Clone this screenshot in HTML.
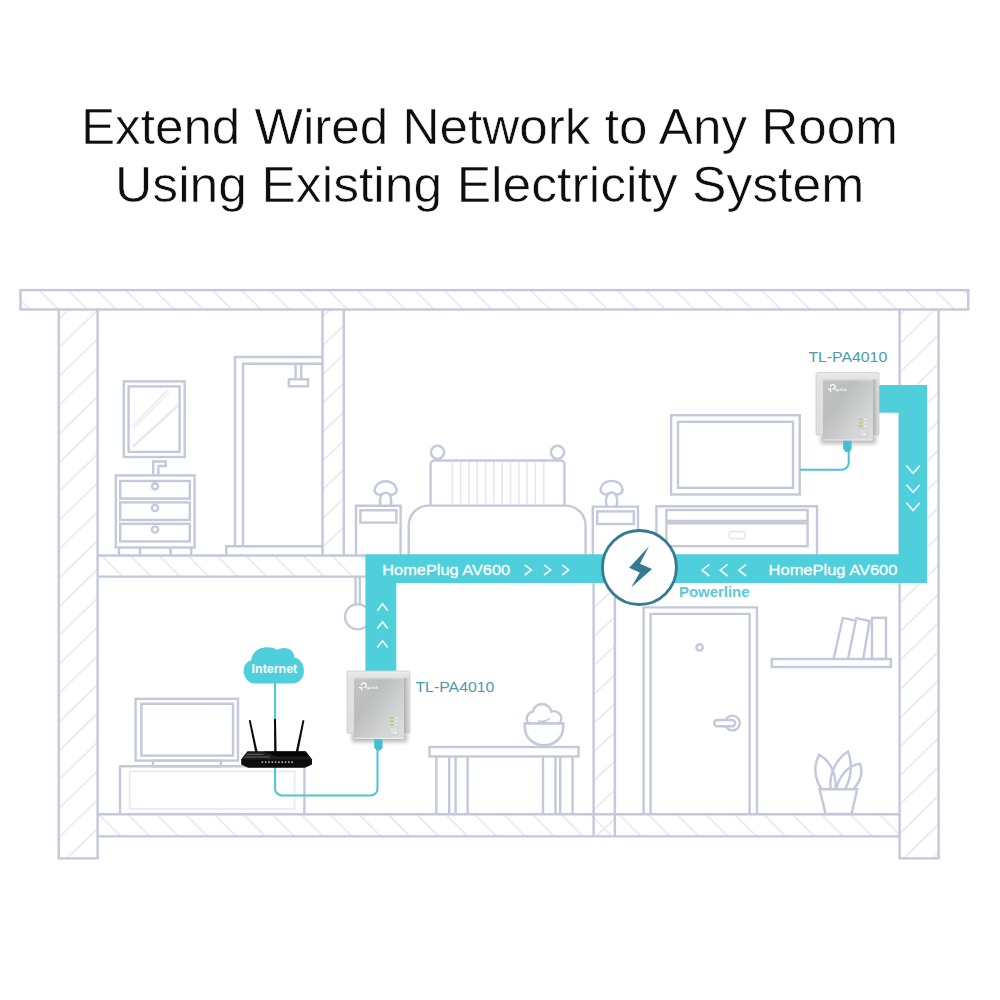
<!DOCTYPE html>
<html><head><meta charset="utf-8"><title>Powerline</title>
<style>
html,body{margin:0;padding:0;background:#fff;}
body{width:1000px;height:1000px;overflow:hidden;font-family:"Liberation Sans",sans-serif;}
svg{display:block;position:absolute;left:0;top:0;}
</style></head><body>
<svg width="1000" height="1000" viewBox="0 0 1000 1000" font-family="Liberation Sans, sans-serif">
<defs>
<clipPath id="c_roof"><rect x="20.5" y="290" width="947.7" height="19.5"/></clipPath>
<clipPath id="c_lw"><rect x="58.7" y="309.5" width="38.89999999999999" height="548.9"/></clipPath>
<clipPath id="c_rw"><rect x="899.6" y="309.5" width="39.19999999999993" height="548.9"/></clipPath>
<clipPath id="c_iw1"><rect x="322.5" y="309.5" width="21.30000000000001" height="246.0"/></clipPath>
<clipPath id="c_iw2"><rect x="593.6" y="583" width="21.399999999999977" height="253"/></clipPath>
<clipPath id="c_f1"><rect x="97.6" y="555.5" width="267.4" height="21.299999999999955"/></clipPath>
<clipPath id="c_f0"><rect x="97.6" y="814.5" width="802.0" height="21.5"/></clipPath>
<linearGradient id="gFace" x1="0" y1="0" x2="1" y2="0.9">
<stop offset="0" stop-color="#c3c3c3"/><stop offset="0.35" stop-color="#bcbdbd"/><stop offset="0.7" stop-color="#d0d1d1"/><stop offset="1" stop-color="#dddddd"/>
</linearGradient>
<linearGradient id="gFaceV" x1="0" y1="0" x2="0" y2="1">
<stop offset="0" stop-color="#fff" stop-opacity="0.35"/><stop offset="0.04" stop-color="#fff" stop-opacity="0"/><stop offset="0.965" stop-color="#fff" stop-opacity="0"/><stop offset="1" stop-color="#fff" stop-opacity="0.6"/>
</linearGradient>
<linearGradient id="gBack" x1="0" y1="0" x2="0" y2="1">
<stop offset="0" stop-color="#ececec"/><stop offset="0.08" stop-color="#e3e3e3"/><stop offset="1" stop-color="#dedede"/>
</linearGradient>
<linearGradient id="gSide" x1="0" y1="0" x2="1" y2="0">
<stop offset="0" stop-color="#000" stop-opacity="0.22"/><stop offset="1" stop-color="#000" stop-opacity="0"/>
</linearGradient>
<filter id="fBlur" x="-30%" y="-100%" width="160%" height="300%"><feGaussianBlur stdDeviation="2.2"/></filter>
<g id="dev">
<rect x="5" y="62" width="55" height="9" fill="#7a7a7a" opacity="0.55" filter="url(#fBlur)"/>
<rect x="0" y="0" width="63" height="62.5" rx="1.6" fill="url(#gBack)" stroke="#cbcbcb" stroke-width="0.8"/>
<rect x="56.8" y="6.8" width="6" height="55.4" fill="url(#gSide)"/>
<rect x="7" y="6.8" width="49.8" height="61.2" rx="1.2" fill="url(#gFace)"/>
<rect x="7" y="6.8" width="49.8" height="61.2" rx="1.2" fill="url(#gFaceV)"/>
<!-- logo -->
<g fill="none" stroke="#fff" stroke-width="1.2" stroke-linecap="round"><path d="M12.4 16.6H14.6V19M14.5 14a2.3 2.3 0 1 1 2.5 2.5"/></g>
<text x="19.4" y="18.4" font-size="3.9" fill="#fff" font-weight="bold" opacity="0.85">tp-link</text>
<!-- leds -->
<g fill="#b4cc5e"><rect x="43" y="46.2" width="3.6" height="1.5" rx="0.7"/><rect x="43" y="49.4" width="3.6" height="1.5" rx="0.7"/><rect x="43" y="53" width="3.6" height="1.5" rx="0.7"/></g>
<g fill="#eef0f0"><rect x="48.2" y="46.2" width="2" height="1.3"/><rect x="48.2" y="49.4" width="2" height="1.3"/><rect x="48.2" y="53" width="2" height="1.3"/></g>
<rect x="42.8" y="56.4" width="8.6" height="7.6" rx="1.2" fill="#dcdde0" stroke="#c6c8d4" stroke-width="0.6"/>
<rect x="46.6" y="61.4" width="3.2" height="1" fill="#f6f6f6"/>
<!-- connector -->
<path d="M27.2 68.2H35.6V76.5L33.2 79.4H29.6L27.2 76.5Z" fill="#45bfcf"/>
</g>

</defs>
<rect width="1000" height="1000" fill="#fff"/>
<g fill="#0e0e0e" font-size="50.4" text-anchor="middle" stroke="#fff" stroke-width="0.55">
<text id="t1" x="489.4" y="144" textLength="817" lengthAdjust="spacingAndGlyphs">Extend Wired Network to Any Room</text>
<text id="t2" x="489.6" y="202" textLength="749.2" lengthAdjust="spacingAndGlyphs">Using Existing Electricity System</text>
</g>

<g clip-path="url(#c_roof)" stroke="#ededef" stroke-width="2"><line x1="-47.70" y1="290" x2="-28.20" y2="309.5"/><line x1="-18.80" y1="290" x2="0.70" y2="309.5"/><line x1="10.10" y1="290" x2="29.60" y2="309.5"/><line x1="39.00" y1="290" x2="58.50" y2="309.5"/><line x1="67.90" y1="290" x2="87.40" y2="309.5"/><line x1="96.80" y1="290" x2="116.30" y2="309.5"/><line x1="125.70" y1="290" x2="145.20" y2="309.5"/><line x1="154.60" y1="290" x2="174.10" y2="309.5"/><line x1="183.50" y1="290" x2="203.00" y2="309.5"/><line x1="212.40" y1="290" x2="231.90" y2="309.5"/><line x1="241.30" y1="290" x2="260.80" y2="309.5"/><line x1="270.20" y1="290" x2="289.70" y2="309.5"/><line x1="299.10" y1="290" x2="318.60" y2="309.5"/><line x1="328.00" y1="290" x2="347.50" y2="309.5"/><line x1="356.90" y1="290" x2="376.40" y2="309.5"/><line x1="385.80" y1="290" x2="405.30" y2="309.5"/><line x1="414.70" y1="290" x2="434.20" y2="309.5"/><line x1="443.60" y1="290" x2="463.10" y2="309.5"/><line x1="472.50" y1="290" x2="492.00" y2="309.5"/><line x1="501.40" y1="290" x2="520.90" y2="309.5"/><line x1="530.30" y1="290" x2="549.80" y2="309.5"/><line x1="559.20" y1="290" x2="578.70" y2="309.5"/><line x1="588.10" y1="290" x2="607.60" y2="309.5"/><line x1="617.00" y1="290" x2="636.50" y2="309.5"/><line x1="645.90" y1="290" x2="665.40" y2="309.5"/><line x1="674.80" y1="290" x2="694.30" y2="309.5"/><line x1="703.70" y1="290" x2="723.20" y2="309.5"/><line x1="732.60" y1="290" x2="752.10" y2="309.5"/><line x1="761.50" y1="290" x2="781.00" y2="309.5"/><line x1="790.40" y1="290" x2="809.90" y2="309.5"/><line x1="819.30" y1="290" x2="838.80" y2="309.5"/><line x1="848.20" y1="290" x2="867.70" y2="309.5"/><line x1="877.10" y1="290" x2="896.60" y2="309.5"/><line x1="906.00" y1="290" x2="925.50" y2="309.5"/><line x1="934.90" y1="290" x2="954.40" y2="309.5"/><line x1="963.80" y1="290" x2="983.30" y2="309.5"/><line x1="992.70" y1="290" x2="1012.20" y2="309.5"/></g>
<g clip-path="url(#c_lw)" stroke="#ededef" stroke-width="2"><line x1="58.7" y1="261.60" x2="97.6" y2="223.67"/><line x1="58.7" y1="290.40" x2="97.6" y2="252.47"/><line x1="58.7" y1="319.20" x2="97.6" y2="281.27"/><line x1="58.7" y1="348.00" x2="97.6" y2="310.07"/><line x1="58.7" y1="376.80" x2="97.6" y2="338.87"/><line x1="58.7" y1="405.60" x2="97.6" y2="367.67"/><line x1="58.7" y1="434.40" x2="97.6" y2="396.47"/><line x1="58.7" y1="463.20" x2="97.6" y2="425.27"/><line x1="58.7" y1="492.00" x2="97.6" y2="454.07"/><line x1="58.7" y1="520.80" x2="97.6" y2="482.87"/><line x1="58.7" y1="549.60" x2="97.6" y2="511.67"/><line x1="58.7" y1="578.40" x2="97.6" y2="540.47"/><line x1="58.7" y1="607.20" x2="97.6" y2="569.27"/><line x1="58.7" y1="636.00" x2="97.6" y2="598.07"/><line x1="58.7" y1="664.80" x2="97.6" y2="626.87"/><line x1="58.7" y1="693.60" x2="97.6" y2="655.67"/><line x1="58.7" y1="722.40" x2="97.6" y2="684.47"/><line x1="58.7" y1="751.20" x2="97.6" y2="713.27"/><line x1="58.7" y1="780.00" x2="97.6" y2="742.07"/><line x1="58.7" y1="808.80" x2="97.6" y2="770.87"/><line x1="58.7" y1="837.60" x2="97.6" y2="799.67"/><line x1="58.7" y1="866.40" x2="97.6" y2="828.47"/><line x1="58.7" y1="895.20" x2="97.6" y2="857.27"/><line x1="58.7" y1="924.00" x2="97.6" y2="886.07"/></g>
<g clip-path="url(#c_rw)" stroke="#ededef" stroke-width="2"><line x1="899.6" y1="257.70" x2="938.6" y2="219.48"/><line x1="899.6" y1="286.50" x2="938.6" y2="248.28"/><line x1="899.6" y1="315.30" x2="938.6" y2="277.08"/><line x1="899.6" y1="344.10" x2="938.6" y2="305.88"/><line x1="899.6" y1="372.90" x2="938.6" y2="334.68"/><line x1="899.6" y1="401.70" x2="938.6" y2="363.48"/><line x1="899.6" y1="430.50" x2="938.6" y2="392.28"/><line x1="899.6" y1="459.30" x2="938.6" y2="421.08"/><line x1="899.6" y1="488.10" x2="938.6" y2="449.88"/><line x1="899.6" y1="516.90" x2="938.6" y2="478.68"/><line x1="899.6" y1="545.70" x2="938.6" y2="507.48"/><line x1="899.6" y1="574.50" x2="938.6" y2="536.28"/><line x1="899.6" y1="603.30" x2="938.6" y2="565.08"/><line x1="899.6" y1="632.10" x2="938.6" y2="593.88"/><line x1="899.6" y1="660.90" x2="938.6" y2="622.68"/><line x1="899.6" y1="689.70" x2="938.6" y2="651.48"/><line x1="899.6" y1="718.50" x2="938.6" y2="680.28"/><line x1="899.6" y1="747.30" x2="938.6" y2="709.08"/><line x1="899.6" y1="776.10" x2="938.6" y2="737.88"/><line x1="899.6" y1="804.90" x2="938.6" y2="766.68"/><line x1="899.6" y1="833.70" x2="938.6" y2="795.48"/><line x1="899.6" y1="862.50" x2="938.6" y2="824.28"/><line x1="899.6" y1="891.30" x2="938.6" y2="853.08"/><line x1="899.6" y1="920.10" x2="938.6" y2="881.88"/></g>
<g clip-path="url(#c_iw1)" stroke="#ededef" stroke-width="2"><line x1="322.5" y1="259.40" x2="343.8" y2="239.16"/><line x1="322.5" y1="288.20" x2="343.8" y2="267.96"/><line x1="322.5" y1="317.00" x2="343.8" y2="296.76"/><line x1="322.5" y1="345.80" x2="343.8" y2="325.56"/><line x1="322.5" y1="374.60" x2="343.8" y2="354.37"/><line x1="322.5" y1="403.40" x2="343.8" y2="383.17"/><line x1="322.5" y1="432.20" x2="343.8" y2="411.97"/><line x1="322.5" y1="461.00" x2="343.8" y2="440.77"/><line x1="322.5" y1="489.80" x2="343.8" y2="469.57"/><line x1="322.5" y1="518.60" x2="343.8" y2="498.37"/><line x1="322.5" y1="547.40" x2="343.8" y2="527.16"/><line x1="322.5" y1="576.20" x2="343.8" y2="555.96"/></g>
<g clip-path="url(#c_iw2)" stroke="#ededef" stroke-width="2"><line x1="593.6" y1="550.50" x2="614.9" y2="530.69"/><line x1="593.6" y1="579.30" x2="614.9" y2="559.49"/><line x1="593.6" y1="608.10" x2="614.9" y2="588.29"/><line x1="593.6" y1="636.90" x2="614.9" y2="617.09"/><line x1="593.6" y1="665.70" x2="614.9" y2="645.89"/><line x1="593.6" y1="694.50" x2="614.9" y2="674.69"/><line x1="593.6" y1="723.30" x2="614.9" y2="703.49"/><line x1="593.6" y1="752.10" x2="614.9" y2="732.29"/><line x1="593.6" y1="780.90" x2="614.9" y2="761.09"/><line x1="593.6" y1="809.70" x2="614.9" y2="789.89"/><line x1="593.6" y1="838.50" x2="614.9" y2="818.69"/><line x1="593.6" y1="867.30" x2="614.9" y2="847.49"/></g>
<g clip-path="url(#c_f1)" stroke="#ededef" stroke-width="2"><line x1="43.90" y1="555.5" x2="65.00" y2="576.6"/><line x1="72.70" y1="555.5" x2="93.80" y2="576.6"/><line x1="101.50" y1="555.5" x2="122.60" y2="576.6"/><line x1="130.30" y1="555.5" x2="151.40" y2="576.6"/><line x1="159.10" y1="555.5" x2="180.20" y2="576.6"/><line x1="187.90" y1="555.5" x2="209.00" y2="576.6"/><line x1="216.70" y1="555.5" x2="237.80" y2="576.6"/><line x1="245.50" y1="555.5" x2="266.60" y2="576.6"/><line x1="274.30" y1="555.5" x2="295.40" y2="576.6"/><line x1="303.10" y1="555.5" x2="324.20" y2="576.6"/><line x1="331.90" y1="555.5" x2="353.00" y2="576.6"/><line x1="360.70" y1="555.5" x2="381.80" y2="576.6"/><line x1="389.50" y1="555.5" x2="410.60" y2="576.6"/></g>
<g clip-path="url(#c_f0)" stroke="#ededef" stroke-width="2"><line x1="41.00" y1="814.3" x2="63.10" y2="836.4"/><line x1="69.90" y1="814.3" x2="92.00" y2="836.4"/><line x1="98.80" y1="814.3" x2="120.90" y2="836.4"/><line x1="127.70" y1="814.3" x2="149.80" y2="836.4"/><line x1="156.60" y1="814.3" x2="178.70" y2="836.4"/><line x1="185.50" y1="814.3" x2="207.60" y2="836.4"/><line x1="214.40" y1="814.3" x2="236.50" y2="836.4"/><line x1="243.30" y1="814.3" x2="265.40" y2="836.4"/><line x1="272.20" y1="814.3" x2="294.30" y2="836.4"/><line x1="301.10" y1="814.3" x2="323.20" y2="836.4"/><line x1="330.00" y1="814.3" x2="352.10" y2="836.4"/><line x1="358.90" y1="814.3" x2="381.00" y2="836.4"/><line x1="387.80" y1="814.3" x2="409.90" y2="836.4"/><line x1="416.70" y1="814.3" x2="438.80" y2="836.4"/><line x1="445.60" y1="814.3" x2="467.70" y2="836.4"/><line x1="474.50" y1="814.3" x2="496.60" y2="836.4"/><line x1="503.40" y1="814.3" x2="525.50" y2="836.4"/><line x1="532.30" y1="814.3" x2="554.40" y2="836.4"/><line x1="561.20" y1="814.3" x2="583.30" y2="836.4"/><line x1="590.10" y1="814.3" x2="612.20" y2="836.4"/><line x1="619.00" y1="814.3" x2="641.10" y2="836.4"/><line x1="647.90" y1="814.3" x2="670.00" y2="836.4"/><line x1="676.80" y1="814.3" x2="698.90" y2="836.4"/><line x1="705.70" y1="814.3" x2="727.80" y2="836.4"/><line x1="734.60" y1="814.3" x2="756.70" y2="836.4"/><line x1="763.50" y1="814.3" x2="785.60" y2="836.4"/><line x1="792.40" y1="814.3" x2="814.50" y2="836.4"/><line x1="821.30" y1="814.3" x2="843.40" y2="836.4"/><line x1="850.20" y1="814.3" x2="872.30" y2="836.4"/><line x1="879.10" y1="814.3" x2="901.20" y2="836.4"/><line x1="908.00" y1="814.3" x2="930.10" y2="836.4"/></g>
<g fill="none" stroke="#c3c8db" stroke-width="2.4" stroke-linejoin="miter">
<rect x="20.5" y="290.1" width="947.7" height="19.4"/>
<path d="M58.7 309.5V858.4H97.6V309.5"/>
<path d="M899.6 309.5V858.4H938.6V309.5"/>
<path d="M322.5 309.5V555.5M343.8 309.5V555.5"/>
<path d="M593.6 583V836.4M614.9 583V836.4"/>
<path d="M97.6 555.5H366M97.6 576.6H366"/>
<path d="M97.6 814.3H899.6M97.6 836.4H899.6"/>
</g>
<g fill="none" stroke="#c3c8db" stroke-width="2.4" stroke-linejoin="miter" stroke-linecap="butt">
<!-- ===== bathroom ===== -->
<!-- mirror -->
<g stroke="#e9eaef"><path d="M132.8 426.4L167.6 389.8" stroke-width="1.4"/><path d="M134 428.6L169.6 391.2" stroke-width="1.2"/><path d="M132.8 446.8L179 404.8" stroke-width="2.6"/></g>
<rect x="123.8" y="381.4" width="60.9" height="75.6"/>
<rect x="128.6" y="386.4" width="51" height="65.5"/>
<!-- faucet -->
<path d="M153.2 475.4V461.5H165.8V466H158.4V475.4"/>
<!-- cabinet -->
<rect x="115.8" y="475.4" width="78.8" height="72.1"/>
<rect x="120.2" y="481" width="69.6" height="17.6"/>
<rect x="120.2" y="502.4" width="69.6" height="17.6"/>
<rect x="120.2" y="523.8" width="69.6" height="17.6"/>
<circle cx="155" cy="486.3" r="3.1" fill="#fff"/>
<circle cx="155" cy="508" r="3.1" fill="#fff"/>
<circle cx="155" cy="529.5" r="3.1" fill="#fff"/>
<path d="M119 547.5V555.5M140 547.5V555.5M170.6 547.5V555.5M191.2 547.5V555.5"/>
<!-- shower -->
<path d="M235 546.3V357H322.5"/>
<path d="M243 546.3V363.8H322.5"/>
<path d="M226.3 555.5V546.3H322.5"/>
<path d="M295.6 363.8V379.3M301.2 363.8V379.3"/>
<rect x="288.8" y="379.3" width="19.2" height="7"/>
<!-- ===== bedroom ===== -->
<!-- left nightstand -->
<path d="M356 555V505.7H400.6V555"/>
<rect x="360.4" y="510.3" width="36" height="12.3"/>
<path d="M380.7 505.7C379.2 500.7 379.6 492.9 385.6 492.9C391.6 492.9 392.0 500.7 390.5 505.7"/>
<path d="M382.2 494.5C376.6 496.1 374.0 492.1 374.8 488.7C375.8 483.9 380.6 481.3 385.6 481.3C390.6 481.3 395.4 483.9 396.4 488.7C397.2 492.1 394.6 496.1 389.0 494.5"/>
<!-- right nightstand -->
<path d="M592.8 555V506.6H638V555"/>
<rect x="597.2" y="511.4" width="36.6" height="12.6"/>
<path d="M606.7 506.6C605.2 501.6 605.6 492.5 611.6 492.5C617.6 492.5 618.0 501.6 616.5 506.6"/>
<path d="M608.2 494.1C602.6 495.7 600.0 491.7 600.8 488.3C601.8 483.5 606.6 480.9 611.6 480.9C616.6 480.9 621.4 483.5 622.4 488.3C623.2 491.7 620.6 495.7 615.0 494.1"/>
<!-- bed headboard -->
<g stroke="#e6e8f0" stroke-width="1.6"><path d="M452.4 461V505M460.7 461V505M469 461V505M477.3 461V505M485.6 461V505M493.9 461V505M502.2 461V505M510.5 461V505M518.8 461V505M527.1 461V505M535.4 461V505M543.7 461V505"/></g>
<path d="M430.6 505.6V464.5a4 4 0 0 1 4 -4H560.5a4 4 0 0 1 4 4V505.6"/>
<circle cx="437.5" cy="452.3" r="6.6" fill="#fff"/>
<circle cx="557.5" cy="452.3" r="6.6" fill="#fff"/>
<!-- bed cover -->
<path d="M408.7 555V525.6a20 20 0 0 1 20 -20H565.6a20 20 0 0 1 20 20V555"/>
<!-- hanging lamp -->
<path d="M355.6 577V604M359.8 577V604"/>
<circle cx="357.6" cy="616.8" r="12.6"/>
<!-- ===== living room upper right ===== -->
<rect x="671.1" y="415.2" width="128.6" height="79.3"/>
<rect x="678" y="421.8" width="115" height="66"/>
<path d="M656.4 555V506.2H817V555"/>
<rect x="666.4" y="510" width="141.2" height="10.9"/>
<rect x="666.4" y="523.3" width="141.2" height="22.9"/>
<rect x="729.3" y="531.6" width="15.4" height="7" rx="1.5" stroke="#e6e7ec" stroke-width="1.6"/>
<!-- ===== door room ===== -->
<path d="M643.6 814.5V607.4H757V814.5"/>
<path d="M650.6 814.5V613.9H749.6V814.5"/>
<circle cx="699.6" cy="647.4" r="3.2"/>
<circle cx="732.4" cy="723" r="7.4"/>
<rect x="714.2" y="720" width="21" height="6.2" rx="3.1" fill="#fff"/>
<!-- shelf -->
<rect x="771.8" y="659" width="119" height="8"/>
<path d="M833.6 659L842.8 617.8L855.8 620.6L848 659"/>
<path d="M856.2 619.2L856.4 618.2L869.6 621L863.2 659"/>
<rect x="872" y="617.8" width="14" height="41.2"/>
<!-- plant -->
<path d="M819.6 789.2H857.2L851.6 814H825.6Z"/>
<path d="M821.6 789C814 778 813.5 765 819.2 754.8C829 760 836.5 772 835.6 789"/>
<path d="M830.8 789C828.5 775 836 759 848 751.6C853 764 851 778 845.2 789"/>
<path d="M836.4 789C839 776 848 765.5 860 763.6C863.5 773 860 782 853.6 789"/>
<!-- ===== lower left room ===== -->
<rect x="135.6" y="698.8" width="102.4" height="61.8"/>
<rect x="141.4" y="703.8" width="91.6" height="51.8"/>
<rect x="153" y="760.6" width="67.8" height="5.7"/>
<rect x="129.6" y="771.4" width="165" height="37.4" stroke="#eaecf2" stroke-width="1.8"/>
<path d="M120 814.5V766.3H304.4V814.5"/>
<!-- table -->
<rect x="429.5" y="747" width="149" height="9.5"/>
<path d="M436.4 756.5V814.5M449.2 756.5V814.5M455.6 756.5V814.5M467.6 756.5V814.5"/>
<path d="M543 756.5V814.5M555.5 756.5V814.5M560.2 756.5V814.5M572.6 756.5V814.5"/>
<!-- bowl -->
<path d="M527.6 723C525.4 718 527.5 712.4 533 711.6C534 706.6 538 704 542 704C546.5 704 550.5 707 551.4 711.6C556 710 561.6 713.5 561.2 718.5C561.1 720 560.8 721.6 560.2 723" fill="#fff"/>
<path d="M538 720.6C541 722 548 721.4 549.4 718" stroke-width="1.6"/>
<path d="M524.8 723.4H563.2V727C563.2 738 554 745.4 544 745.4C534 745.4 524.8 738 524.8 727Z" fill="#fff" stroke-width="2.6"/>
</g>

<!-- cables -->
<g fill="none" stroke="#4cc4d2" stroke-width="2" stroke-linecap="butt">
<path d="M275.1 683V720"/>
<path d="M275.1 767V788.5a7 7 0 0 0 7 7H370.5a7 7 0 0 0 7 -7V750"/>
<path d="M848.7 451V462.8a7 7 0 0 1 -7 7H800"/>
</g>
<!-- powerline band -->
<path d="M365.4 671.3V554.3H898.8V412.8H878.8V384.9H927V582.9H396.3V671.3Z" fill="#4fcfdc"/>
<g fill="#fff" font-size="14.7" stroke="#fff" stroke-width="0.3">
<text id="hp1" x="382.3" y="575" textLength="127.8" lengthAdjust="spacingAndGlyphs">HomePlug AV600</text>
<text id="hp2" x="768.6" y="575" textLength="128.8" lengthAdjust="spacingAndGlyphs">HomePlug AV600</text>
</g>
<g fill="none" stroke="#f2fdff" stroke-width="1.6" stroke-linecap="butt" stroke-linejoin="miter">
<path d="M524.6 564.8L531.4 569.9L524.6 575M544 564.8L550.8 569.9L544 575M562 564.8L568.8 569.9L562 575"/>
<path d="M709.4 564.4L702 570.2L709.4 576M727.6 564.4L720.2 570.2L727.6 576M746.2 564.4L738.8 570.2L746.2 576"/>
<path d="M377.3 610.5L382.5 603.8L387.7 610.5M377.3 628.6L382.5 621.9L387.7 628.6M377.3 647.5L382.5 640.8L387.7 647.5"/>
<path d="M906.4 465.6L913.1 473.3L919.8 465.6M906.4 484.7L913.1 492.4L919.8 484.7M906.4 502.8L913.1 510.5L919.8 502.8"/>
</g>
<!-- powerline circle -->
<circle cx="639.4" cy="567.5" r="37" fill="#fff" stroke="#357a90" stroke-width="2.8"/>
<path d="M649 546.2L629.2 567.8L639.7 572.4L631.2 587.5L652 569L640 563.7Z" fill="#357a90"/>
<text id="pl" x="679" y="596.8" font-size="14" font-weight="bold" fill="#5cc9d7" textLength="70.5" lengthAdjust="spacingAndGlyphs">Powerline</text>
<!-- labels -->
<g fill="#4a9cab" font-size="15">
<text id="tl1" x="808.4" y="362" textLength="78.8" lengthAdjust="spacingAndGlyphs">TL-PA4010</text>
<text id="tl2" x="415.4" y="691.8" textLength="79" lengthAdjust="spacingAndGlyphs">TL-PA4010</text>
</g>
<!-- cloud -->
<path fill="#4fcfdc" d="M256.6 683.5C248 684 243.7 677 243.7 671.2C243.7 665 247 661.4 251 660.6C252 652 259 647.2 267 647.2C271.5 647.2 275 648.3 277.4 649.9C279 648.7 281.2 648 283.8 648C290 648 294.2 652 294.4 657.6C300 658.5 303.9 664 303.9 671.2C303.9 678 299 684 291 683.5Z"/>
<text id="inet" x="251.6" y="673" font-size="12.4" font-weight="bold" fill="#fff" textLength="45.6" lengthAdjust="spacingAndGlyphs">Internet</text>

<use href="#dev" x="347" y="671"/>
<use href="#dev" x="816" y="372.6"/>
<!-- router -->
<g fill="#0c0c0c" stroke="none">
<path d="M248.8 720.3L250.6 720.1L258 753.6L255.6 754.2Z"/>
<path d="M274 719L276 719L276.6 753.4L274.2 753.4Z"/>
<path d="M302.6 720.1L304.4 720.5L297.8 754.2L295.4 753.6Z"/>
<path d="M247.4 751.6H305.6L312 759.6V764.4L305 767.8H248.2L241.2 764.4V759.6Z"/>
<path d="M247.4 751.6H305.6L312 759.6H241.2Z" fill="#1d1d1d"/>
<path d="M263 751.6H305.6L309.6 756.6H277Z" fill="#050505"/>
<path d="M246.6 754.4H263.4M244.6 757H270" stroke="#6c6c6c" stroke-width="0.9" fill="none"/>
</g>
<g fill="#cfd8a8"><rect x="261.6" y="761.4" width="1.6" height="1.4"/><rect x="264.9" y="761.4" width="1.6" height="1.4"/><rect x="268.2" y="761.4" width="1.6" height="1.4"/><rect x="271.5" y="761.4" width="1.6" height="1.4"/><rect x="274.8" y="761.4" width="1.6" height="1.4"/><rect x="278.1" y="761.4" width="1.6" height="1.4"/><rect x="281.4" y="761.4" width="1.6" height="1.4"/><rect x="284.7" y="761.4" width="1.6" height="1.4"/><rect x="288" y="761.4" width="1.6" height="1.4"/><rect x="291.3" y="761.4" width="1.6" height="1.4"/></g>

</svg>
</body></html>
